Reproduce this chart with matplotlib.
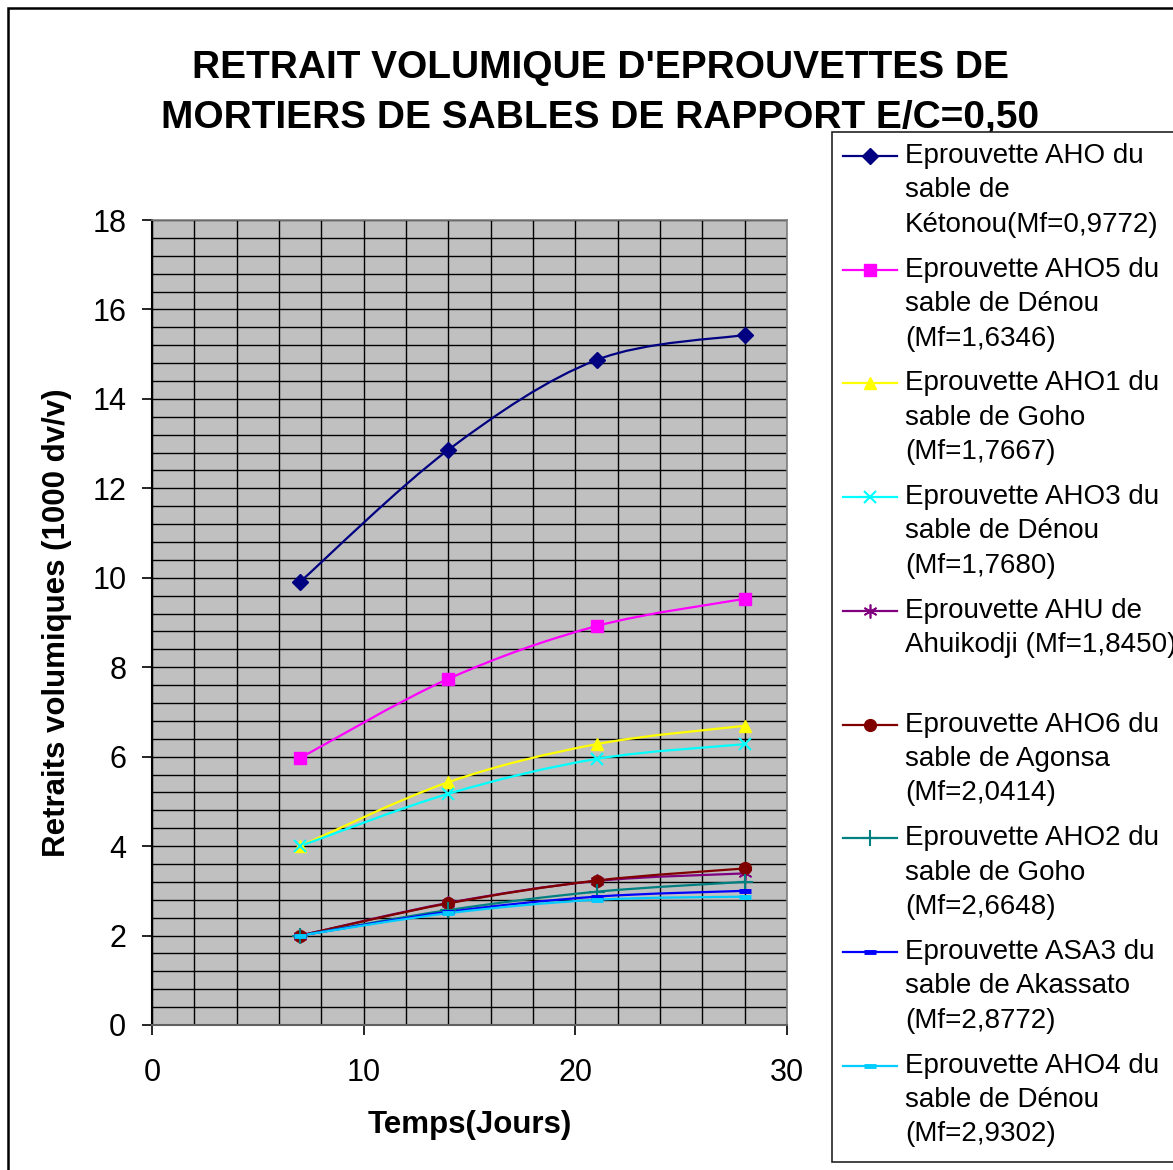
import numpy as np
import matplotlib
matplotlib.use("Agg")
import matplotlib.pyplot as plt
from matplotlib.path import Path
from matplotlib.patches import PathPatch, Rectangle
from matplotlib.lines import Line2D

plt.rcParams['font.family'] = ['Liberation Sans', 'DejaVu Sans']

# ---------------- data ----------------
jours = [7, 14, 21, 28]
aho = [9.91, 12.86, 14.87, 15.43]
aho5 = [5.97, 7.74, 8.92, 9.53]
aho1 = [4.00, 5.43, 6.28, 6.69]
aho3 = [4.00, 5.17, 5.95, 6.28]
ahu = [2.00, 2.73, 3.22, 3.39]
aho6 = [2.00, 2.72, 3.23, 3.50]
aho2 = [2.00, 2.57, 2.98, 3.20]
asa3 = [2.00, 2.53, 2.87, 3.00]
aho4 = [2.00, 2.50, 2.80, 2.87]

labels = [
    ["Eprouvette AHO du", "sable de", "Kétonou(Mf=0,9772)"],
    ["Eprouvette AHO5 du", "sable de Dénou", "(Mf=1,6346)"],
    ["Eprouvette AHO1 du", "sable de Goho", "(Mf=1,7667)"],
    ["Eprouvette AHO3 du", "sable de Dénou", "(Mf=1,7680)"],
    ["Eprouvette AHU de", "Ahuikodji (Mf=1,8450)", ""],
    ["Eprouvette AHO6 du", "sable de Agonsa", "(Mf=2,0414)"],
    ["Eprouvette AHO2 du", "sable de Goho", "(Mf=2,6648)"],
    ["Eprouvette ASA3 du", "sable de Akassato", "(Mf=2,8772)"],
    ["Eprouvette AHO4 du", "sable de Dénou", "(Mf=2,9302)"],
]
title_lines = ["RETRAIT VOLUMIQUE D'EPROUVETTES DE",
               "MORTIERS DE SABLES DE RAPPORT E/C=0,50"]
xlabel = "Temps(Jours)"
ylabel = "Retraits volumiques (1000 dv/v)"

series = [aho, aho5, aho1, aho3, ahu, aho6, aho2, asa3, aho4]
colors = ['#000080', '#FF00FF', '#FFFF00', '#00FFFF', '#800080',
          '#800000', '#008080', '#0000FF', '#00CCFF']
markers = ['D', 's', '^', 'x', (6, 2, 0), 'o', '+', '_', '_']
msizes = [8, 8, 9, 9, 10, 8.5, 11, 9, 9]
mews = [1, 1, 1, 1.5, 1.2, 1, 1.5, 3.5, 3.5]

# ---------------- figure ----------------
W, H = 1173, 1170
fig = plt.figure(figsize=(W / 100, H / 100), dpi=100)
fig.patch.set_facecolor('white')

def fx(px):
    return px / W

def fy(py):
    return 1 - py / H

ax = fig.add_axes([fx(152), fy(1025), fx(787) - fx(152), fy(220) - fy(1025)])
ax.set_facecolor('#C0C0C0')
ax.set_xlim(0, 30)
ax.set_ylim(0, 18)
ax.set_xticks([0, 10, 20, 30])
ax.set_yticks(np.arange(0, 19, 2))
ax.set_xticks(np.arange(0, 31, 2), minor=True)
ax.set_yticks(np.arange(0, 18.01, 0.4), minor=True)
ax.grid(True, which='both', color='black', linewidth=1.0)
ax.set_axisbelow(True)
ax.tick_params(which='minor', length=0)
ax.tick_params(axis='y', which='major', direction='out', length=7.5, width=1.2,
               labelsize=22, pad=11)
ax.tick_params(axis='x', which='major', direction='out', length=7.5, width=1.2,
               labelsize=22, pad=16)
for s in ['top', 'right']:
    ax.spines[s].set_color('#808080')
    ax.spines[s].set_linewidth(1.2)
ax.spines['left'].set_color('black')
ax.spines['left'].set_linewidth(1.5)
ax.spines['bottom'].set_color('#606060')
ax.spines['bottom'].set_linewidth(1.5)


def smooth_path(xs, ys):
    P = np.column_stack([xs, ys]).astype(float)
    n = len(P)
    verts = [P[0]]
    codes = [Path.MOVETO]
    for i in range(n - 1):
        pp = P[i - 1] if i > 0 else P[i]
        pn = P[i + 2] if i + 2 < n else P[i + 1]
        c1 = P[i] + (P[i + 1] - pp) / 6.0
        c2 = P[i + 1] - (pn - P[i]) / 6.0
        verts += [c1, c2, P[i + 1]]
        codes += [Path.CURVE4] * 3
    return Path(verts, codes)


for ys, c, m, ms, mew in zip(series, colors, markers, msizes, mews):
    ax.add_patch(PathPatch(smooth_path(jours, ys), fill=False, edgecolor=c,
                           linewidth=1.6, transform=ax.transData, zorder=3))
    ax.plot(jours, ys, linestyle='none', marker=m, markersize=ms,
            markerfacecolor=c, markeredgecolor=c, markeredgewidth=mew,
            zorder=4, clip_on=False)

ax.set_xlabel(xlabel, fontsize=22.5, fontweight='bold', va='center')
ax.xaxis.set_label_coords(0.5, -100 / 805)
ax.set_ylabel(ylabel, fontsize=22.5, fontweight='bold', va='center')
ax.yaxis.set_label_coords((57 - 152) / 635, 0.5)

# title
fig.text(fx(600), fy(68), title_lines[0], fontsize=28, fontweight='bold',
         ha='center', va='center')
fig.text(fx(600), fy(118), title_lines[1], fontsize=28, fontweight='bold',
         ha='center', va='center')

# outer border
fig.add_artist(Rectangle((fx(8), fy(1200)), fx(1200) - fx(8), fy(8) - fy(1200),
                         transform=fig.transFigure, fill=False,
                         edgecolor='black', linewidth=1.8))

# legend box
fig.add_artist(Rectangle((fx(832), fy(1162)), fx(1200) - fx(832), fy(132) - fy(1162),
                         transform=fig.transFigure, facecolor='white',
                         edgecolor='#222222', linewidth=1.2, zorder=5))

y0 = 156
line_h = 34.4
gap = 10.5
for lab, c, m, ms, mew in zip(labels, colors, markers, msizes, mews):
    fig.add_artist(Line2D([fx(843), fx(897)], [fy(y0), fy(y0)], color=c,
                          linewidth=1.6, transform=fig.transFigure, zorder=6))
    fig.add_artist(Line2D([fx(870)], [fy(y0)], linestyle='none', marker=m,
                          markersize=ms, markerfacecolor=c, markeredgecolor=c,
                          markeredgewidth=mew, transform=fig.transFigure, zorder=6))
    for k, t in enumerate(lab):
        fig.text(fx(905), fy(y0 + k * line_h), t, fontsize=20, ha='left',
                 va='center', zorder=7)
    y0 += len(lab) * line_h + gap

fig.savefig('out.png', dpi=100)
